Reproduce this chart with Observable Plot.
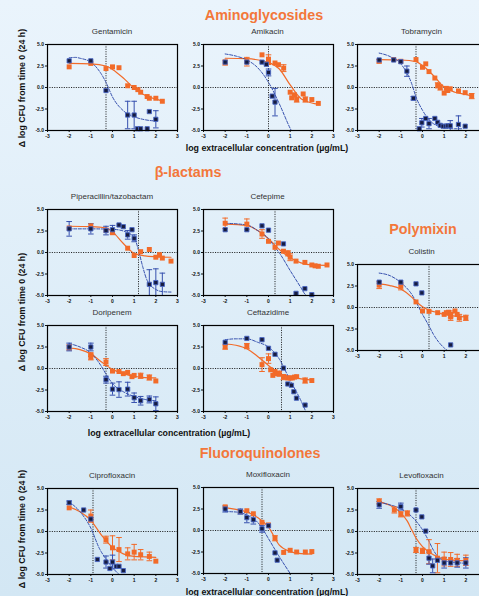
<!DOCTYPE html>
<html><head><meta charset="utf-8">
<script src="https://cdn.jsdelivr.net/npm/d3@7"></script>
<script src="https://cdn.jsdelivr.net/npm/@observablehq/plot@0.6"></script>
<style>
html,body{margin:0;padding:0;}
body{width:479px;height:596px;overflow:hidden;background:linear-gradient(to bottom,#eaf4fc,#d3e7f4);font-family:"Liberation Sans",Arial,sans-serif;}
#root{position:relative;width:479px;height:596px;}
.abs{position:absolute;white-space:nowrap;transform:translate(-50%,-50%);}
.hdr{color:#f3773a;font-weight:bold;font-size:14.3px;}
.ttl{color:#333;font-size:8px;}
.xl{color:#111;font-weight:bold;font-size:8.8px;}
.yl{color:#111;font-weight:bold;font-size:8.8px;transform:translate(-50%,-50%) rotate(-90deg);}
</style></head>
<body><div id="root"></div>
<script>
// ---- tick labels ----
const xTicks = [-3, -2, -1, 0, 1, 2, 3];
const xTicksRightEdge = [-3, -2, -1, 0, 1, 2]; // the "3" of the right column falls outside the picture
const yTicks = [5, 2.5, 0, -2.5, -5];

// ---- data: [log conc, delta log CFU, error] ----
const gentamicinBlue = [[-2,3.1],[-1,3.1],[-0.3,-0.35],[0.7,-3.2,1.6],[1,-3.2,1.6],[1.15,-4.8],[1.3,-4.8],[1.6,-4.8],[1.7,-2.8],[2,-3.7,1]];
const gentamicinOrange = [[-2,2.4],[-1,2.8],[-0.3,2.2],[0,2.4],[0.3,2.3],[0.7,0.2],[1,0],[1.17,-0.25],[1.3,-0.55],[1.6,-1.05],[1.7,-1.25],[2,-1.25],[2.3,-1.6]];
const gentamicinBlueFit = [[-2,3.45],[-1.7,3.5],[-1.5,3.4],[-1,2.95],[-0.5,1.5],[-0.3,0.6],[0,-1.1],[0.5,-2.7],[1,-3.4],[1.5,-3.75],[2,-3.9]];
const gentamicinOrangeFit = [[-2,2.8],[-1,2.75],[-0.3,2.5],[0,2.1],[0.5,1.1],[1,-0.1],[1.5,-0.9],[2,-1.35],[2.3,-1.55]];

const amikacinBlue = [[-2,2.95],[-1,2.95],[-0.3,2.95],[-0.1,2.7],[0,1.75,0.4],[0.17,-1.0],[0.3,-1.7,1.6]];
const amikacinOrange = [[-2,2.9,0.3],[-1,3.0,0.5],[-0.3,3.8],[0,3.3,0.5],[0,2.9],[0.3,2.85],[0.46,2.65],[0.7,2.25,0.4],[1,-0.55],[1.07,-1.2],[1.2,-0.85],[1.3,-1.4,0.3],[1.6,-0.75],[1.7,-1.4,0.3],[2,-1.4],[2.3,-1.85]];
const amikacinBlueFit = [[-2,3.9],[-1.5,3.65],[-1,3.2],[-0.5,2.3],[0,0.6],[0.5,-1.9],[1,-4.75],[1.05,-5]];
const amikacinOrangeFit = [[-2,3.4],[-1,3.35],[0,2.9],[0.5,2.15],[1,0.3],[1.5,-1.3],[2,-1.8],[2.3,-1.95]];

const tobramycinBlue = [[-2,3.2],[-1.33,3.2],[-1,3.0],[-0.72,1.9,0.6],[-0.42,-1.25,0.2],[-0.15,-4.8],[-0.03,-4.1,0.5],[0.15,-3.6],[0.3,-4.2,0.6],[0.57,-3.6],[0.7,-4.05],[0.82,-4.4],[0.95,-4.5],[1.08,-4.5],[1.17,-4.45],[1.28,-4.45,0.6],[1.66,-4.3,1],[1.97,-4.5]];
const tobramycinOrange = [[-2,3.05,0.2],[-1.33,3.25],[-1,3.05],[-0.3,3.25],[0,2.35],[0.15,2.75],[0.3,1.85],[0.57,1.1],[0.7,0.25,0.3],[0.82,0,0.3],[1,-0.65],[1.1,-0.1],[1.17,-0.35],[1.28,-0.15],[1.66,-0.4],[1.97,-0.6],[2.27,-1,0.3]];
const tobramycinBlueFit = [[-2,4.0],[-1.5,3.6],[-1,2.75],[-0.5,0.45],[-0.3,-1.1],[0,-2.65],[0.5,-4.2],[1,-4.65],[1.5,-4.8],[1.8,-4.8]];
const tobramycinOrangeFit = [[-2,3.25],[-1,3.2],[-0.3,3.0],[0,2.55],[0.5,1.4],[1,0.05],[1.5,-0.55],[2,-0.8],[2.3,-1.0]];

const piperacillinBlue = [[-2,2.75,0.85],[-1,2.75,0.6],[-0.3,2.55,0.5],[0,2.65,0.5],[0.3,3.2],[0.5,3.0],[0.7,2.05,0.5],[0.9,2.65],[1,1.65,0.4],[1.7,-3.7,1.7],[2,-3.5,1.6],[2.3,-3.7,1.3]];
const piperacillinOrange = [[-2,2.85],[-1,3.1],[-0.3,2.6],[0,2.3],[0.7,0.5],[1,-0.35],[1.3,0.1],[1.7,0.35],[2,-0.55],[2.17,-0.25],[2.3,-0.65],[2.7,-1.0]];
const piperacillinBlueFit = [[-2,2.75],[-1,2.75],[0,2.7],[0.5,2.5],[1,1.75],[1.2,0.25],[1.4,-1.7],[1.6,-3.25],[2,-4.3],[2.3,-4.55],[2.7,-4.6]];
const piperacillinOrangeFit = [[-2,3.05],[-1,3.0],[-0.3,2.85],[0,2.4],[0.5,1.05],[1,-0.1],[1.5,-0.4],[2,-0.5],[2.7,-0.55]];

const cefepimeBlue = [[-2,2.65],[-1,2.65],[-0.3,3.1],[0,2.6],[0.69,1.0],[1.27,-4.75],[1.68,-4.2],[2,-4.9]];
const cefepimeOrange = [[-2,3.4,0.6],[-1,3.3,0.6],[-0.3,2.15,0.5],[0,1.3],[0.3,0.6],[0.46,1.1],[0.69,0.15],[0.9,-0.1,0.3],[1,-0.55,0.4],[1.27,-1.0],[1.68,-1.15],[2,-1.45],[2.15,-1.55],[2.3,-1.6],[2.7,-1.45]];
const cefepimeBlueFit = [[-2,3.4],[-1,3.2],[-0.5,2.55],[0,1.6],[0.3,0.6],[0.5,-0.05],[1,-2.1],[1.5,-4.1],[1.7,-4.9],[1.75,-5]];
const cefepimeOrangeFit = [[-2,3.3],[-1,3.15],[-0.5,2.55],[0,1.6],[0.3,0.85],[0.5,0.35],[1,-0.6],[1.5,-1.2],[2,-1.45],[2.7,-1.5]];

const doripenemBlue = [[-2,2.5,0.45],[-1,2.5,0.45],[-0.3,-1.3,0.4],[0,-2.4,0.7],[0.3,-2.45,0.9],[0.7,-2.4,0.8],[1,-3.4,0.55],[1.3,-3.75,0.5],[1.7,-3.6,0.4],[2,-4.1,0.8]];
const doripenemOrange = [[-2,2.45,0.3],[-1,1.6,0.2],[-1,1.3,0.3],[-0.3,0.75,0.4],[0,-0.3],[0.3,-0.35],[0.5,-0.6],[0.7,-0.45],[0.9,-0.95],[1,-0.8],[1.3,-0.85,0.3],[1.7,-1.05,0.3],[2,-1.45]];
const doripenemBlueFit = [[-2,2.9],[-1.5,2.5],[-1,1.8],[-0.5,0.2],[-0.3,-0.65],[0,-1.75],[0.5,-2.7],[1,-3.25],[1.5,-3.6],[2,-3.75]];
const doripenemOrangeFit = [[-2,2.4],[-1.5,2.2],[-1,1.7],[-0.5,0.75],[0,-0.1],[0.5,-0.6],[1,-0.9],[1.5,-1.05],[2,-1.1]];

const ceftazidimeBlue = [[-2,3.05],[-1,3.5],[-0.3,3.35],[0,2.35],[0.3,1.65],[0.69,0.05],[0.89,-1.8],[1.06,-1.95],[1.17,-2.7],[1.29,-3.45],[1.69,-4.25]];
const ceftazidimeOrange = [[-2,2.5,0.25],[-1,2.6,0.3],[-0.3,0.45,0.8],[0,1.15,0.55],[0.1,-0.15],[0.2,-0.8],[0.3,-0.35],[0.4,-0.6],[0.5,-0.6,0.3],[0.69,-1.0,0.3],[0.89,-1.1],[1,-1.1],[1.1,-1.1],[1.2,-1.0],[1.3,-0.95],[1.69,-1.4,0.3],[2,-1.4]];
const ceftazidimeBlueFit = [[-2,3.35],[-1.5,3.45],[-1,3.45],[-0.5,3.05],[0,2.5],[0.5,1.1],[1,-1.4],[1.5,-3.75],[1.72,-5]];
const ceftazidimeOrangeFit = [[-2,2.85],[-1.5,2.7],[-1,2.3],[-0.5,1.4],[0,0.35],[0.3,-0.25],[0.5,-0.55],[1,-0.95],[1.5,-1.2],[2,-1.35]];

const colistinBlue = [[-2,2.95],[-1,2.95],[-0.3,2.75],[-0.03,1.7],[1.3,-4.35]];
const colistinOrange = [[-2,2.6,0.4],[-1,2.45,0.4],[-0.3,0.65],[0,-0.4],[0.3,-0.45],[0.7,-0.6],[1,-0.8],[1.1,-0.6],[1.2,-0.55],[1.3,-0.8,0.4],[1.3,-1.1,0.4],[1.5,-0.4],[1.6,-0.8],[1.7,-1.2,0.4],[2,-1.2,0.3]];
const colistinBlueFit = [[-2,4.0],[-1.5,3.7],[-1,2.9],[-0.5,1.55],[0,-0.8],[0.3,-2.15],[0.5,-3.1],[1,-4.7],[1.15,-5]];
const colistinOrangeFit = [[-2,2.75],[-1.5,2.55],[-1,2.15],[-0.5,1.2],[-0.3,0.7],[0,0.1],[0.3,-0.3],[0.7,-0.6],[1,-0.8],[1.5,-1.0],[2,-1.1]];

const ciprofloxacinBlue = [[-2,3.35,0.2],[-1.33,2.5],[-1,1.45],[-0.7,-3.25],[-0.3,-3.55,0.7],[-0.12,-4.3],[0,-3.55,0.8],[0.17,-4.05],[0.3,-4.05],[0.5,-4.55]];
const ciprofloxacinOrange = [[-2,2.75],[-1,1.8,0.7],[-1,1.35],[-0.3,-0.95,0.4],[0,-1.9,1.4],[0.3,-2.1,1.4],[0.7,-2.6,0.7],[1,-2.4,0.9],[1.3,-2.7,0.6],[1.7,-2.9,0.5],[2,-3.45]];
const ciprofloxacinBlueFit = [[-2,3.45],[-1.5,2.3],[-1,0.4],[-0.6,-2.0],[-0.3,-3.2],[0,-4.2],[0.3,-5]];
const ciprofloxacinOrangeFit = [[-2,2.85],[-1.5,2.3],[-1,1.3],[-0.5,-0.45],[0,-1.85],[0.5,-2.6],[1,-2.9],[1.5,-2.95],[2,-3.0]];

const moxifloxacinBlue = [[-2,2.5,0.35],[-1.3,2.2,0.3],[-1,1.5,0.6],[-0.7,1.25,0.5],[-0.3,0.2,0.4],[0,0.55],[0.3,-2.6],[0.4,-3.45]];
const moxifloxacinOrange = [[-2,2.75],[-1.3,2.2],[-1,2.3],[-0.7,1.95],[-0.3,0.95],[0,0.65],[0.3,-0.9,0.3],[0.7,-2.55],[1,-2.3],[1.3,-2.5],[1.7,-2.5],[2,-2.45]];
const moxifloxacinBlueFit = [[-2,2.2],[-1.5,2.15],[-1,1.8],[-0.5,0.95],[-0.3,0.3],[0,-0.95],[0.5,-3.05],[1,-5]];
const moxifloxacinOrangeFit = [[-2,2.65],[-1.5,2.45],[-1,2.15],[-0.5,1.5],[0,0.4],[0.5,-1.7],[1,-2.45],[1.5,-2.7],[2,-2.75]];

const levofloxacinBlue = [[-2,3.1,0.4],[-1,2.9,0.4],[-0.3,2.5],[-0.03,1.7],[0.15,0.05],[0.3,-3.1,0.7],[0.47,-4.0,0.8],[0.69,-3.35],[1,-3.65,0.6],[1.3,-3.65],[1.6,-3.65,0.5],[2,-3.65,0.6]];
const levofloxacinOrange = [[-2,3.5,0.3],[-1.3,2.5,0.35],[-1,2.0,0.3],[-0.7,2.1,0.3],[-0.3,-2.15,0.3],[0,-2.25,0.3],[0.3,-2.35,1.4],[0.69,-3.1,1.7],[1,-3.2,0.8],[1.3,-3.25,0.8],[1.6,-3.35,0.7],[2,-3.35,0.6]];
const levofloxacinBlueFit = [[-2,3.4],[-1.5,3.1],[-1,2.65],[-0.5,1.75],[0,0.2],[0.3,-1.15],[0.5,-2.15],[0.7,-2.9],[1,-3.4],[1.5,-3.6],[2,-3.7]];
const levofloxacinOrangeFit = [[-2,3.45],[-1.5,3.05],[-1,2.15],[-0.7,1.2],[-0.5,0.2],[-0.3,-0.75],[0,-1.75],[0.5,-2.7],[1,-3.2],[1.5,-3.35],[2,-3.4]];

// MIC (vertical dotted line), log µg/mL
const micValues = {Gentamicin:-0.3, Amikacin:0, Tobramycin:-0.3, "Piperacillin/tazobactam":1.2, Cefepime:0.3, Doripenem:-0.3, Ceftazidime:0.6, Colistin:0.3, Ciprofloxacin:-0.9, Moxifloxacin:-0.3, Levofloxacin:-0.3};

// ---- layout ----
const ORANGE = "#f26b29", BLUE = "#3650ae", NAVY = "#161c40";
const FW = 130, FH = 86, ML = 17, MR = 3, MT = 3, MB = 12;
const panels = [
  {title:"Gentamicin", d:[gentamicinBlue,gentamicinOrange,gentamicinBlueFit,gentamicinOrangeFit], left:47, top:44},
  {title:"Amikacin", d:[amikacinBlue,amikacinOrange,amikacinBlueFit,amikacinOrangeFit], left:202.5, top:44},
  {title:"Tobramycin", d:[tobramycinBlue,tobramycinOrange,tobramycinBlueFit,tobramycinOrangeFit], left:356.5, top:44, edge:true},
  {title:"Piperacillin/tazobactam", d:[piperacillinBlue,piperacillinOrange,piperacillinBlueFit,piperacillinOrangeFit], left:47, top:209},
  {title:"Cefepime", d:[cefepimeBlue,cefepimeOrange,cefepimeBlueFit,cefepimeOrangeFit], left:202.5, top:209},
  {title:"Doripenem", d:[doripenemBlue,doripenemOrange,doripenemBlueFit,doripenemOrangeFit], left:47, top:325},
  {title:"Ceftazidime", d:[ceftazidimeBlue,ceftazidimeOrange,ceftazidimeBlueFit,ceftazidimeOrangeFit], left:203, top:325},
  {title:"Colistin", d:[colistinBlue,colistinOrange,colistinBlueFit,colistinOrangeFit], left:356.5, top:264, edge:true},
  {title:"Ciprofloxacin", d:[ciprofloxacinBlue,ciprofloxacinOrange,ciprofloxacinBlueFit,ciprofloxacinOrangeFit], left:47, top:487.5},
  {title:"Moxifloxacin", d:[moxifloxacinBlue,moxifloxacinOrange,moxifloxacinBlueFit,moxifloxacinOrangeFit], left:203, top:487},
  {title:"Levofloxacin", d:[levofloxacinBlue,levofloxacinOrange,levofloxacinBlueFit,levofloxacinOrangeFit], left:356.5, top:487.5, edge:true}
];
const headers = [
  {text:"Aminoglycosides", x:264, y:15},
  {text:"β-lactams", x:188, y:172},
  {text:"Polymixin", x:423, y:229},
  {text:"Fluoroquinolones", x:260, y:453}
];
const xLabels = [{x:267,y:148},{x:169,y:433},{x:267,y:592}];
const yLabels = [{x:22,y:88},{x:22,y:312},{x:22,y:529}];
const xTitle = "log extracellular concentration (µg/mL)";
const yTitle = "Δ log CFU from time 0 (24 h)";

const root = document.getElementById("root");
function addText(cls, text, x, y) {
  const el = document.createElement("div");
  el.className = "abs " + cls;
  el.textContent = text;
  el.style.left = x + "px";
  el.style.top = y + "px";
  root.appendChild(el);
}
const rows = a => a.map(([x, y, e = 0]) => ({x, y, e}));
const CAP = 0.13;

function errMarks(data, color) {
  const eb = data.filter(d => d.e > 0);
  return [
    Plot.ruleX(eb, {x: "x", y1: d => d.y - d.e, y2: d => d.y + d.e, stroke: color, strokeWidth: 1, clip: true}),
    Plot.link(eb, {x1: d => d.x - CAP, x2: d => d.x + CAP, y1: d => d.y + d.e, y2: d => d.y + d.e, stroke: color, strokeWidth: 1, clip: true}),
    Plot.link(eb, {x1: d => d.x - CAP, x2: d => d.x + CAP, y1: d => d.y - d.e, y2: d => d.y - d.e, stroke: color, strokeWidth: 1, clip: true})
  ];
}

for (const p of panels) {
  const [bRaw, oRaw, bfRaw, ofRaw] = p.d;
  const B = rows(bRaw), O = rows(oRaw), BF = rows(bfRaw), OF = rows(ofRaw);
  const svg = Plot.plot({
    width: ML + FW + MR, height: MT + FH + MB,
    marginLeft: ML, marginRight: MR, marginTop: MT, marginBottom: MB,
    style: {background: "transparent", fontFamily: "'Liberation Sans', Arial, sans-serif", fontSize: "5px", fontWeight: "bold", color: "#111", overflow: "visible"},
    x: {domain: [-3, 3], ticks: p.edge ? xTicksRightEdge : xTicks, tickFormat: d => String(d), tickSize: 2, tickPadding: 1.5, label: null},
    y: {domain: [-5, 5], ticks: yTicks, tickFormat: d => d.toFixed(1), tickSize: 2, tickPadding: 1.5, label: null},
    marks: [
      Plot.ruleY([0], {stroke: "#111", strokeWidth: 0.9, strokeDasharray: "1.1,1.3"}),
      Plot.ruleX([micValues[p.title]], {stroke: "#111", strokeWidth: 0.9, strokeDasharray: "1.1,1.3"}),
      Plot.line(OF, {x: "x", y: "y", stroke: ORANGE, strokeWidth: 1.2, curve: "monotone-x", clip: true}),
      Plot.line(BF, {x: "x", y: "y", stroke: BLUE, strokeWidth: 1, strokeDasharray: "3,1.6", curve: "monotone-x", clip: true}),
      ...errMarks(O, ORANGE),
      ...errMarks(B, BLUE),
      Plot.dot(O, {x: "x", y: "y", symbol: "square", r: 2.8, fill: ORANGE, stroke: "none"}),
      Plot.dot(B, {x: "x", y: "y", symbol: "square", r: 2.4, fill: NAVY, stroke: "#4a66c4", strokeWidth: 0.9}),
      Plot.frame({stroke: "#000", strokeWidth: 1.2})
    ]
  });
  svg.style.position = "absolute";
  svg.style.left = (p.left - ML) + "px";
  svg.style.top = (p.top - MT) + "px";
  svg.style.maxWidth = "none";
  root.appendChild(svg);
  addText("ttl", p.title, p.left + FW / 2, p.top - 13);
}
for (const h of headers) addText("hdr", h.text, h.x, h.y);
for (const l of xLabels) addText("xl", xTitle, l.x, l.y);
for (const l of yLabels) addText("yl", yTitle, l.x, l.y);
</script>
</body></html>
